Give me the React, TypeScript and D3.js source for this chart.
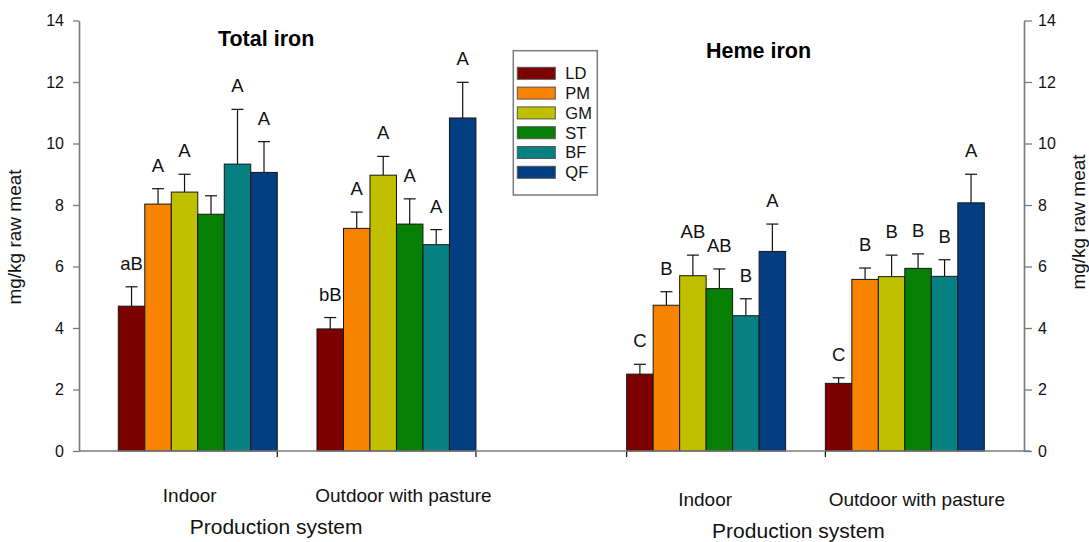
import * as d3 from "d3";
import { useEffect, useRef } from "react";

const series = ["LD", "PM", "GM", "ST", "BF", "QF"];
const seriesColors = ["#7d0000", "#f88300", "#c0c000", "#058005", "#068080", "#033e80"];
const systems = ["Indoor", "Outdoor with pasture"];
const panelNames = ["Total iron", "Heme iron"];
const yTicks = [0, 2, 4, 6, 8, 10, 12, 14];

// means and upper error (SE), order = series
const totalIndoorMean = [4.71, 8.03, 8.42, 7.7, 9.33, 9.06];
const totalIndoorErr = [0.63, 0.5, 0.58, 0.6, 1.78, 1.0];
const totalOutdoorMean = [3.97, 7.24, 8.97, 7.38, 6.71, 10.83];
const totalOutdoorErr = [0.37, 0.53, 0.61, 0.82, 0.49, 1.16];
const hemeIndoorMean = [2.5, 4.74, 5.7, 5.28, 4.4, 6.49];
const hemeIndoorErr = [0.32, 0.44, 0.67, 0.64, 0.55, 0.89];
const hemeOutdoorMean = [2.2, 5.58, 5.67, 5.94, 5.68, 8.07];
const hemeOutdoorErr = [0.18, 0.37, 0.7, 0.47, 0.54, 0.93];

const totalIndoorLetters = ["aB", "A", "A", "", "A", "A"];
const totalOutdoorLetters = ["bB", "A", "A", "A", "A", "A"];
const hemeIndoorLetters = ["C", "B", "AB", "AB", "B", "A"];
const hemeOutdoorLetters = ["C", "B", "B", "B", "B", "A"];

const font = "'Liberation Sans', Arial, sans-serif";

export default function App() {
  const leftRef = useRef<SVGGElement>(null);
  const rightRef = useRef<SVGGElement>(null);

  const width = 1089;
  const height = 542;
  const axisL = 79;
  const axisR = 1024;

  const y = d3.scaleLinear().domain([0, 14]).range([451, 20.5]);

  const panelX = d3.scaleBand().domain(panelNames).range([118.3, 984.3]).paddingInner(0.2965);
  const groupX = d3.scaleBand().domain(systems).range([0, panelX.bandwidth()]).paddingInner(0.2);
  const barX = d3.scaleBand().domain(series).range([0, groupX.bandwidth()]);

  const data = [
    { panel: "Total iron", groups: [
      { sys: "Indoor", mean: totalIndoorMean, err: totalIndoorErr, letters: totalIndoorLetters },
      { sys: "Outdoor with pasture", mean: totalOutdoorMean, err: totalOutdoorErr, letters: totalOutdoorLetters },
    ]},
    { panel: "Heme iron", groups: [
      { sys: "Indoor", mean: hemeIndoorMean, err: hemeIndoorErr, letters: hemeIndoorLetters },
      { sys: "Outdoor with pasture", mean: hemeOutdoorMean, err: hemeOutdoorErr, letters: hemeOutdoorLetters },
    ]},
  ];

  // layout tweaks per panel (title / label placement in the original)
  const layout: Record<string, any> = {
    "Total iron": { titleDx: -31, titleY: 46, tickSide: "end", catDx: [-8, 7], catY: 502, axDx: -21, axY: 534 },
    "Heme iron": { titleDx: -47, titleY: 58, tickSide: "start", catDx: [-1, 12], catY: 506, axDx: -7, axY: 538 },
  };

  useEffect(() => {
    const l = d3.select(leftRef.current);
    l.call(d3.axisLeft(y).tickValues(yTicks).tickSize(6).tickPadding(9).tickSizeOuter(0) as any);
    const r = d3.select(rightRef.current);
    r.call(d3.axisRight(y).tickValues(yTicks).tickSize(8).tickPadding(6).tickSizeOuter(0) as any);
    for (const g of [l, r]) {
      g.select(".domain").attr("stroke", "#7a7a7a").attr("stroke-width", 1.6);
      g.selectAll(".tick line").attr("stroke", "#7a7a7a").attr("stroke-width", 1.3);
      g.selectAll(".tick text").attr("font-family", font).attr("font-size", 16).attr("fill", "#111");
    }
  }, []);

  return (
    <svg width={width} height={height} style={{ position: "absolute", left: 0, top: 0, background: "#fff" }} fontFamily={font}>
      <g ref={leftRef} transform={`translate(${axisL},0)`} />
      <g ref={rightRef} transform={`translate(${axisR},0)`} />
      <text transform={`translate(21,${237}) rotate(-90)`} textAnchor="middle" fontSize={19} fill="#111">mg/kg raw meat</text>
      <text transform={`translate(1085,${222}) rotate(-90)`} textAnchor="middle" fontSize={19} fill="#111">mg/kg raw meat</text>

      {data.map((p) => {
        const px = panelX(p.panel)!;
        const lay = layout[p.panel];
        return (
          <g key={p.panel}>
            <text x={px + panelX.bandwidth() / 2 + lay.titleDx} y={lay.titleY} textAnchor="middle" fontSize={21.5} fontWeight="bold" fill="#000">{p.panel}</text>
            {p.groups.map((g, gi) => {
              const gx = px + groupX(g.sys)!;
              const tickX = lay.tickSide === "end" ? gx + groupX.bandwidth() : gx;
              return (
                <g key={g.sys}>
                  {series.map((s, i) => {
                    const x0 = gx + barX(s)!;
                    const cx = x0 + barX.bandwidth() / 2;
                    const top = y(g.mean[i]);
                    const errTop = y(g.mean[i] + g.err[i]);
                    return (
                      <g key={s}>
                        <line x1={cx} x2={cx} y1={top} y2={errTop} stroke="#111" strokeWidth={1.2} />
                        <line x1={cx - 6} x2={cx + 6} y1={errTop} y2={errTop} stroke="#111" strokeWidth={1.2} />
                        <rect x={x0} y={top} width={barX.bandwidth()} height={y(0) - top} fill={seriesColors[i]} stroke="#151515" strokeWidth={1} />
                        <text x={cx} y={errTop - 17} textAnchor="middle" fontSize={18.5} fill="#111">{g.letters[i]}</text>
                      </g>
                    );
                  })}
                  <line x1={tickX} x2={tickX} y1={451} y2={457} stroke="#111" strokeWidth={1.2} />
                  <text x={gx + groupX.bandwidth() / 2 + lay.catDx[gi]} y={lay.catY} textAnchor="middle" fontSize={19} fill="#111">{g.sys}</text>
                </g>
              );
            })}
            <text x={px + panelX.bandwidth() / 2 + lay.axDx} y={lay.axY} textAnchor="middle" fontSize={21} fill="#111">Production system</text>
          </g>
        );
      })}

      <line x1={axisL} x2={axisR + 6} y1={451} y2={451} stroke="#7a7a7a" strokeWidth={1.6} />

      <g>
        <rect x={513.3} y={50.7} width={84} height={144.3} fill="#fff" stroke="#7a7a7a" strokeWidth={1.5} />
        {series.map((s, i) => (
          <g key={s} transform={`translate(517.3,${67.3 + i * 19.8})`}>
            <rect width={38} height={12} fill={seriesColors[i]} stroke="#555" strokeWidth={1} />
            <text x={48} y={6} dy="0.36em" fontSize={16.5} fill="#111">{s}</text>
          </g>
        ))}
      </g>
    </svg>
  );
}
